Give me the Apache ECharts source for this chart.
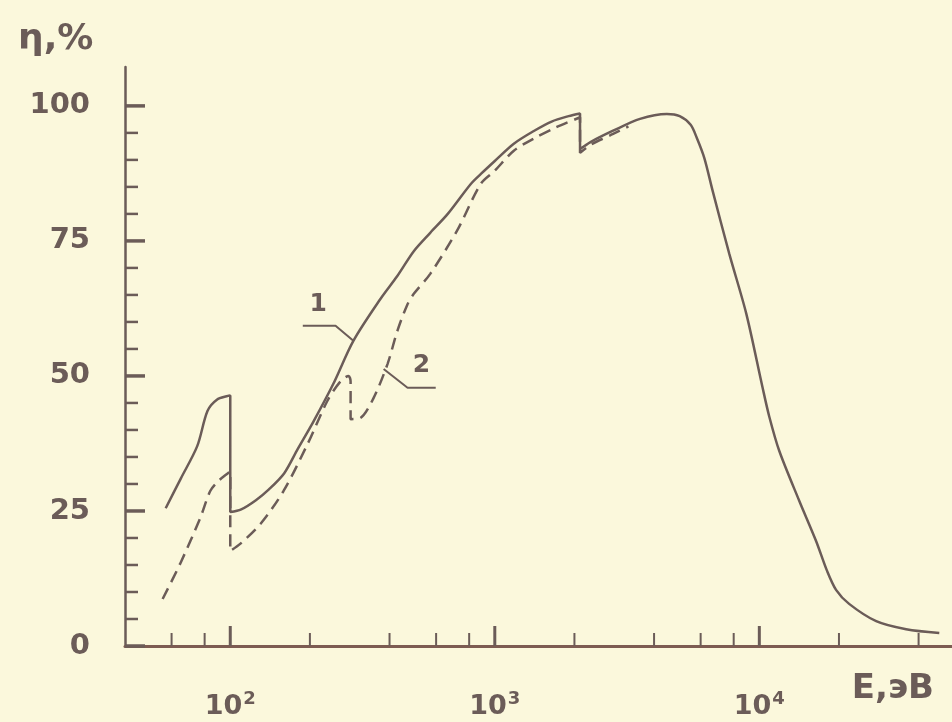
<!DOCTYPE html>
<html>
<head>
<meta charset="utf-8">
<script src="https://cdn.jsdelivr.net/npm/echarts@6/dist/echarts.min.js"></script>
<style>
  html, body { margin: 0; padding: 0; background: #fbf8dc; }
  #chart { width: 952px; height: 722px; }
</style>
</head>
<body>
<div id="chart"></div>
<script>
// кривая 1 (сплошная): E, эВ / η, %
var curve1 = [
  [57, 25.5], [65, 31], [75, 37], [82, 43.5], [89, 45.6], [98, 46.3], [100, 46.4],
  [100, 24.8], [110, 25.3], [125, 27], [140, 29], [160, 32], [180, 36.5], [206, 41.5],
  [245, 48.5], [292, 56.5], [370, 64.3], [428, 68.5], [494, 73.1], [570, 76.5], [664, 80],
  [810, 85.5], [886, 87.4], [1000, 89.8], [1180, 93], [1410, 95.4], [1640, 97.1], [1900, 98.1], [2100, 98.6],
  [2100, 92], [2300, 93.3], [2800, 95.4], [3540, 97.6], [4470, 98.5], [5000, 98.1],
  [5500, 96.5], [5800, 94.1], [6200, 90.3], [6650, 84.4], [7700, 72.6], [8930, 61.5],
  [10270, 48], [10900, 42.5], [11900, 36.1], [14150, 26.9], [16400, 19.4], [18000, 14],
  [19500, 10.4], [21850, 7.8], [27650, 4.6], [35900, 3.1], [47900, 2.4]
];
// кривая 2 (штриховая)
var curve2 = [
  [55.5, 8.7], [64.6, 15.2], [77, 23.7], [84, 28.7], [90, 30.5], [98, 32], [100, 32.3],
  [100, 17.6], [109, 18.9], [130, 22.6], [159, 28.7], [196, 37.4], [233, 45.4], [261, 49],
  [280, 50], [285, 49], [285, 42], [310, 42.2], [348, 45.9], [393, 52.2], [428, 58.3],
  [467, 63.2], [494, 65.2], [570, 68.9], [720, 76.9], [886, 85.6], [1000, 88], [1180, 91.7],
  [1410, 94], [1700, 96], [2080, 97.8], [2100, 97.9], [2100, 91.3], [2300, 92.8], [2800, 94.8], [3200, 96.2]
];
// выноски
var leader1 = [[188, 59.3], [250, 59.3], [292, 56.5]];
var leader2 = [[380, 51.3], [468, 47.8], [598, 47.8]];
var curveLabels = [[215, 63.3, '1'], [528, 51.9, '2']];

// деления осей
var xMajorTicks = [100, 1000, 10000];
var xMinorTicks = [60, 80, 200, 400, 600, 800, 2000, 4000, 6000, 8000, 20000, 40000];
var yMajorTicks = [0, 25, 50, 75, 100];
var yMinorTicks = [5, 10, 15, 20, 30, 35, 40, 45, 55, 60, 65, 70, 80, 85, 90, 95];

var X_MIN = 40, X_MAX = 53500;
var ink = '#6b5c58';
var axisInk = '#7d5c52';
var font = 'DejaVu Sans';

var xTickData = xMajorTicks.map(function (v) { return [v, 20]; })
  .concat(xMinorTicks.map(function (v) { return [v, 13]; }));
var yTickData = yMajorTicks.map(function (v) { return [X_MIN, v, 20]; })
  .concat(yMinorTicks.map(function (v) { return [X_MIN, v, 13]; }));

var supers = { 2: '2', 3: '3', 4: '4' };

var myChart = echarts.init(document.getElementById('chart'));
var option = {
  backgroundColor: '#fbf8dc',
  animation: false,
  title: [
    { text: 'η,%', left: 18, top: 22, padding: 0,
      textStyle: { fontFamily: font, fontSize: 36, fontWeight: 'bold', color: ink } },
    { text: 'E,эВ', right: 18, top: 672, padding: 0,
      textStyle: { fontFamily: font, fontSize: 34, fontWeight: 'bold', color: ink } }
  ],
  grid: { left: 125, right: 0, top: 67, bottom: 76 },
  xAxis: {
    type: 'log', logBase: 10, min: X_MIN, max: X_MAX,
    splitLine: { show: false },
    axisTick: { show: false },
    axisLine: { lineStyle: { color: axisInk, width: 3 } },
    axisLabel: {
      margin: 44,
      showMinLabel: false, showMaxLabel: false,
      formatter: function (v) {
        var p = Math.log10(v), r = Math.round(p);
        if (Math.abs(p - r) > 1e-6 || !supers[r]) return '';
        return '{a|10}{b|' + supers[r] + '}';
      },
      rich: {
        a: { fontFamily: font, fontSize: 27, fontWeight: 'bold', color: ink },
        b: { fontFamily: font, fontSize: 18, fontWeight: 'bold', color: ink, padding: [0, 0, 16, 1] }
      }
    }
  },
  yAxis: {
    type: 'value', min: 0, max: 107.2, interval: 25,
    splitLine: { show: false },
    axisTick: { show: false },
    axisLine: { lineStyle: { color: ink, width: 2.5 } },
    axisLabel: {
      margin: 35, padding: [14, 0, 0, 0],
      fontFamily: font, fontSize: 29, fontWeight: 'bold', color: ink,
      formatter: function (v) { return v > 100 ? '' : String(v); }
    }
  },
  series: [
    {
      name: '1', type: 'line', data: curve1, showSymbol: false, symbol: 'none', smooth: 0.3,
      lineStyle: { color: ink, width: 2.5 }
    },
    {
      name: '2', type: 'line', data: curve2, showSymbol: false, symbol: 'none', smooth: 0.3,
      lineStyle: { color: ink, width: 2.5, type: [12, 7] }
    },
    {
      type: 'line', data: leader1, symbol: 'none', lineStyle: { color: ink, width: 2 }
    },
    {
      type: 'line', data: leader2, symbol: 'none', lineStyle: { color: ink, width: 2 }
    },
    {
      type: 'scatter', data: curveLabels, symbolSize: 0,
      label: {
        show: true, position: 'inside', opacity: 1,
        formatter: function (p) { return p.data[2]; },
        fontFamily: font, fontSize: 25, fontWeight: 'bold', color: ink
      }
    },
    {
      type: 'custom', data: xTickData, silent: true,
      renderItem: function (params, api) {
        var pt = api.coord([api.value(0), 0]);
        return { type: 'line',
          shape: { x1: pt[0], y1: pt[1], x2: pt[0], y2: pt[1] - api.value(1) },
          style: { stroke: ink, lineWidth: api.value(1) > 15 ? 3 : 2 } };
      }
    },
    {
      type: 'custom', data: yTickData, silent: true,
      renderItem: function (params, api) {
        var pt = api.coord([api.value(0), api.value(1)]);
        return { type: 'line',
          shape: { x1: pt[0], y1: pt[1], x2: pt[0] + api.value(2), y2: pt[1] },
          style: { stroke: ink, lineWidth: api.value(2) > 15 ? 3.5 : 2.5 } };
      }
    }
  ]
};
myChart.setOption(option);
</script>
</body>
</html>
